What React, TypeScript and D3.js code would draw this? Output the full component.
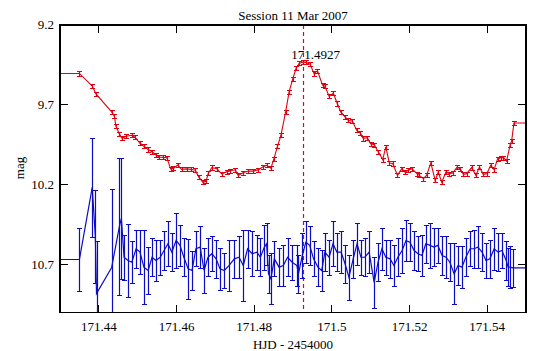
import * as d3 from "d3";

const W = 559;
const H = 351;

const title = "Session 11 Mar 2007";
const xLabel = "HJD - 2454000";
const yLabel = "mag";
const xTicks = [171.44, 171.46, 171.48, 171.5, 171.52, 171.54];
const yTicks = [9.2, 9.7, 10.2, 10.7];
const peakTime = 171.4927;

// red: the variable star
const redTime = [
  171.4350, 171.4383, 171.4393, 171.4433, 171.4440, 171.4444, 171.4453, 171.4460, 171.4470, 171.4485,
  171.4493, 171.4506, 171.4516, 171.4527, 171.4537, 171.4546, 171.4556, 171.4565, 171.4575, 171.4585,
  171.4592, 171.4603, 171.4613, 171.4626, 171.4637, 171.4648, 171.4658, 171.4668, 171.4676, 171.4682,
  171.4691, 171.4704, 171.4716, 171.4729, 171.4739, 171.4751, 171.4759, 171.4771, 171.4785, 171.4798,
  171.4811, 171.4822, 171.4832, 171.4843, 171.4851, 171.4860, 171.4869, 171.4881, 171.4890, 171.4899,
  171.4908, 171.4916, 171.4925, 171.4933, 171.4944, 171.4954, 171.4963, 171.4976, 171.4982, 171.4993,
  171.5004, 171.5014, 171.5023, 171.5034, 171.5042, 171.5053, 171.5064, 171.5073, 171.5081, 171.5091,
  171.5100, 171.5109, 171.5120, 171.5131, 171.5139, 171.5148, 171.5157, 171.5169, 171.5180, 171.5188,
  171.5197, 171.5206, 171.5219, 171.5225, 171.5236, 171.5244, 171.5255, 171.5266, 171.5274, 171.5283,
  171.5294, 171.5303, 171.5311, 171.5323, 171.5330, 171.5339, 171.5347, 171.5360, 171.5371, 171.5380,
  171.5390, 171.5399, 171.5409, 171.5418, 171.5427, 171.5436, 171.5442, 171.5450, 171.5459, 171.5463,
  171.5469,
];
const redMag = [
  9.503, 9.582, 9.633, 9.744, 9.771, 9.833, 9.883, 9.909, 9.896, 9.890,
  9.902, 9.940, 9.959, 9.979, 9.993, 10.012, 10.026, 10.028, 10.030, 10.100,
  10.097, 10.076, 10.103, 10.100, 10.103, 10.109, 10.153, 10.184, 10.178, 10.128,
  10.092, 10.099, 10.131, 10.119, 10.112, 10.106, 10.141, 10.124, 10.114, 10.114,
  10.105, 10.089, 10.078, 10.095, 10.036, 9.959, 9.890, 9.744, 9.618, 9.540,
  9.471, 9.440, 9.432, 9.434, 9.445, 9.503, 9.487, 9.576, 9.582, 9.645,
  9.628, 9.691, 9.744, 9.775, 9.796, 9.802, 9.858, 9.875, 9.910, 9.905,
  9.943, 9.949, 9.994, 10.042, 9.963, 10.063, 10.067, 10.141, 10.099, 10.120,
  10.109, 10.099, 10.130, 10.141, 10.161, 10.141, 10.063, 10.172, 10.120, 10.183,
  10.120, 10.130, 10.126, 10.089, 10.099, 10.134, 10.130, 10.092, 10.141, 10.089,
  10.134, 10.130, 10.078, 10.105, 10.036, 10.030, 10.030, 10.051, 9.952, 9.925,
  9.813,
];
const redErr = 0.013;

// blue: the check star
const blueTime = [
  171.4350, 171.4383, 171.4391, 171.4394, 171.4433, 171.4453, 171.4458,
  171.4465, 171.4475, 171.4485, 171.4496, 171.4506, 171.4516, 171.4527, 171.4537, 171.4547, 171.4558,
  171.4568, 171.4578, 171.4588, 171.4599, 171.4609, 171.4619, 171.4630, 171.4640, 171.4650, 171.4661,
  171.4671, 171.4681, 171.4691, 171.4702, 171.4712, 171.4723, 171.4735, 171.4749, 171.4761, 171.4772,
  171.4783, 171.4795, 171.4807, 171.4816, 171.4826, 171.4832, 171.4837, 171.4843, 171.4852, 171.4864,
  171.4875, 171.4886, 171.4898, 171.4910, 171.4914, 171.4924, 171.4933, 171.4943, 171.4953, 171.4964,
  171.4974, 171.4982, 171.4993, 171.5003, 171.5013, 171.5024, 171.5034, 171.5044, 171.5055, 171.5065,
  171.5075, 171.5085, 171.5096, 171.5109, 171.5119, 171.5129, 171.5139, 171.5150, 171.5160, 171.5170,
  171.5181, 171.5191, 171.5201, 171.5212, 171.5222, 171.5232, 171.5242, 171.5253, 171.5263, 171.5273,
  171.5284, 171.5294, 171.5304, 171.5315, 171.5325, 171.5335, 171.5345, 171.5356, 171.5366, 171.5376,
  171.5387, 171.5397, 171.5407, 171.5418, 171.5428, 171.5438, 171.5449, 171.5454, 171.5459, 171.5466,
];
const blueMag = [
  10.667, 10.216, 10.523, 10.880, 10.717, 10.460, 10.410,
  10.653, 10.673, 10.684, 10.600, 10.621, 10.715, 10.736, 10.653, 10.673, 10.653,
  10.611, 10.569, 10.621, 10.548, 10.579, 10.653, 10.726, 10.736, 10.600, 10.590,
  10.736, 10.653, 10.631, 10.663, 10.726, 10.736, 10.705, 10.663, 10.653, 10.705,
  10.600, 10.631, 10.621, 10.653, 10.590, 10.569, 10.757, 10.788, 10.663, 10.715,
  10.705, 10.653, 10.684, 10.705, 10.757, 10.642, 10.559, 10.579, 10.663, 10.715,
  10.736, 10.621, 10.653, 10.569, 10.621, 10.621, 10.694, 10.778, 10.663, 10.569,
  10.653, 10.653, 10.621, 10.810, 10.684, 10.600, 10.653, 10.663, 10.705, 10.653,
  10.611, 10.548, 10.559, 10.611, 10.631, 10.642, 10.569, 10.579, 10.590, 10.579,
  10.642, 10.653, 10.684, 10.757, 10.705, 10.715, 10.653, 10.600, 10.600, 10.590,
  10.621, 10.673, 10.663, 10.600, 10.621, 10.611, 10.673, 10.715, 10.715, 10.719,
];
const blueErr = [
  0.20, 0.31, 0.29, 0.33, 0.49, 0.43, 0.38,
  0.14, 0.23, 0.13, 0.12, 0.14, 0.23, 0.15, 0.12, 0.13, 0.11,
  0.12, 0.14, 0.12, 0.17, 0.13, 0.12, 0.19, 0.12, 0.11, 0.13,
  0.14, 0.12, 0.11, 0.12, 0.13, 0.11, 0.16, 0.12, 0.13, 0.22,
  0.12, 0.14, 0.11, 0.12, 0.14, 0.13, 0.12, 0.16, 0.11, 0.12,
  0.13, 0.12, 0.11, 0.13, 0.12, 0.14, 0.13, 0.12, 0.11, 0.12,
  0.13, 0.12, 0.11, 0.14, 0.12, 0.13, 0.12, 0.14, 0.12, 0.13,
  0.11, 0.12, 0.13, 0.16, 0.12, 0.13, 0.11, 0.12, 0.13, 0.12,
  0.14, 0.13, 0.12, 0.12, 0.11, 0.13, 0.12, 0.14, 0.12, 0.11,
  0.12, 0.13, 0.12, 0.19, 0.12, 0.13, 0.12, 0.11, 0.12, 0.13,
  0.12, 0.11, 0.12, 0.13, 0.12, 0.11, 0.12, 0.12, 0.13, 0.12,
];

const RED = "#e00010";
const BLUE = "#0c0cc4";
const FONT = "'Liberation Serif', 'DejaVu Serif', serif";

const left = 60, right = 526, top = 25, bottom = 312.7;

function Series({ t, m, e, color, x, y, lw }: any) {
  const d0 = x.domain();
  const pts: [number, number][] = t.map((v: number, i: number) => [v, m[i]]);
  // the line runs flat out to both frame edges
  const ext: [number, number][] = [[d0[0], m[0]], ...pts, [d0[1], m[m.length - 1]]];
  const line = d3.line<[number, number]>().x((d) => x(d[0])).y((d) => y(d[1]));
  const cap = 2.5;
  return (
    <g clipPath="url(#plotclip)">
      <path d={line(ext) || ""} fill="none" stroke={color} strokeWidth={lw} />
      {pts.map((p, i) => {
        const err = Array.isArray(e) ? e[i] : e;
        const cx = Math.round(x(p[0])) + 0.5;
        const y1 = Math.round(y(p[1] - err)) + 0.5;
        const y2 = Math.round(y(p[1] + err)) + 0.5;
        return (
          <g key={i} stroke={color} strokeWidth={1.2}>
            <line x1={cx} x2={cx} y1={y1} y2={y2} />
            <line x1={cx - cap} x2={cx + cap} y1={y1} y2={y1} />
            <line x1={cx - cap} x2={cx + cap} y1={y2} y2={y2} />
          </g>
        );
      })}
    </g>
  );
}

export default function App() {
  const x = d3.scaleLinear().domain([171.43, 171.55]).range([left, right]);
  const y = d3.scaleLinear().domain([9.2, 11.0]).range([top, bottom]);
  const tl = 8;
  const px = Math.round(x(peakTime)) + 0.5;

  return (
    <svg
      width={W}
      height={H}
      style={{ position: "absolute", left: 0, top: 0, background: "#fff" }}
      fontFamily={FONT}
      fontSize={13}
    >
      <defs>
        <clipPath id="plotclip">
          <rect x={left} y={top} width={right - left} height={bottom - top} />
        </clipPath>
      </defs>
      <rect width={W} height={H} fill="#fff" />

      <text x={(left + right) / 2} y={20} textAnchor="middle">{title}</text>

      <line x1={px} x2={px} y1={top} y2={bottom} stroke="#d01010" strokeWidth={1.2} strokeDasharray="4,3" />

      <Series t={blueTime} m={blueMag} e={blueErr} color={BLUE} x={x} y={y} lw={1.2} />
      <Series t={redTime} m={redMag} e={redErr} color={RED} x={x} y={y} lw={1.1} />

      <text x={px + 12} y={59} textAnchor="middle">{peakTime.toString()}</text>

      <g stroke="#000" strokeWidth={1} shapeRendering="crispEdges">
        <rect x={left} y={top} width={right - left} height={bottom - top} fill="none" strokeWidth={1.5} />
        {xTicks.map((v) => (
          <g key={v}>
            <line x1={x(v)} x2={x(v)} y1={bottom} y2={bottom - tl} />
            <line x1={x(v)} x2={x(v)} y1={top} y2={top + tl} />
          </g>
        ))}
        {yTicks.map((v) => (
          <g key={v}>
            <line x1={left} x2={left + tl} y1={y(v)} y2={y(v)} />
            <line x1={right} x2={right - tl} y1={y(v)} y2={y(v)} />
          </g>
        ))}
      </g>

      {xTicks.map((v) => (
        <text key={v} x={x(v)} y={331} textAnchor="middle">{d3.format("")(v)}</text>
      ))}
      {yTicks.map((v) => (
        <text key={v} x={54} y={y(v) + 4} textAnchor="end">{v}</text>
      ))}
      <text x={(left + right) / 2} y={349} textAnchor="middle">{xLabel}</text>
      <text transform={`translate(24,168) rotate(-90)`} textAnchor="middle">{yLabel}</text>
    </svg>
  );
}
